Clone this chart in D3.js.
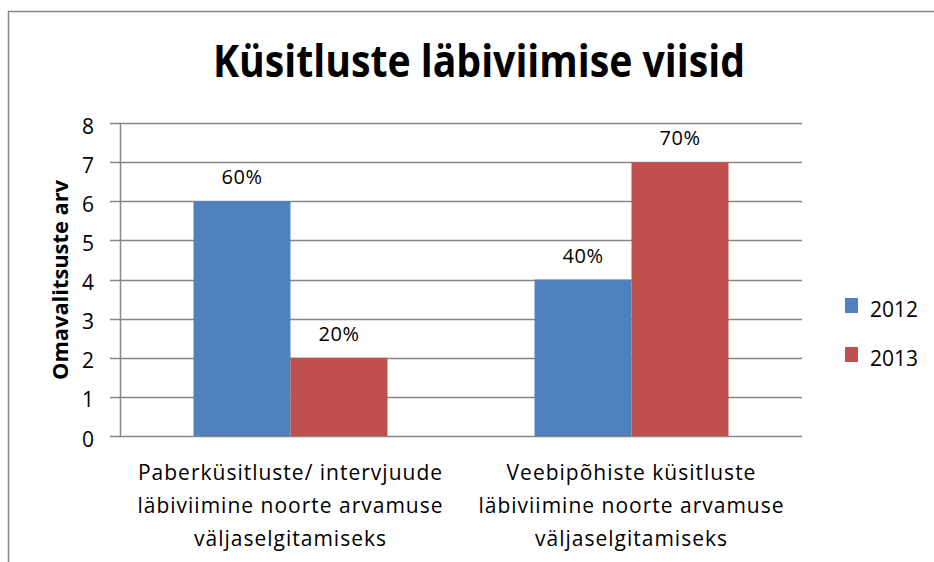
<!DOCTYPE html>
<html>
<head>
<meta charset="utf-8">
<script src="https://cdn.jsdelivr.net/npm/d3@7"></script>
<style>
  body { margin: 0; background: #fff; }
  text { font-family: "Open Sans", "Liberation Sans", sans-serif; fill: #000; }
</style>
</head>
<body>
<svg id="chart" width="934" height="562"></svg>
<script>
// data
const categories = [
  ['Paberküsitluste/ intervjuude', 'läbiviimine noorte arvamuse', 'väljaselgitamiseks'],
  ['Veebipõhiste küsitluste', 'läbiviimine noorte arvamuse', 'väljaselgitamiseks']
]
const seriesNames = ['2012', '2013']
const values2012 = [6, 4]
const values2013 = [2, 7]
const labels2012 = ['60%', '40%']
const labels2013 = ['20%', '70%']
const yTicks = [0, 1, 2, 3, 4, 5, 6, 7, 8]
const colors = ['#4F81BD', '#C0504D']

const svg = d3.select('#chart')

// outer frame
svg.append('rect')
  .attr('x', 8.5).attr('y', 11.5)
  .attr('width', 960).attr('height', 600)
  .attr('fill', 'none').attr('stroke', '#868686').attr('stroke-width', 1.5)

svg.append('text')
  .attr('x', 479).attr('y', 77)
  .attr('text-anchor', 'middle')
  .attr('textLength', 532).attr('lengthAdjust', 'spacingAndGlyphs')
  .style('font-size', '44px').style('font-weight', 'bold')
  .text('Küsitluste läbiviimise viisid')

const plotLeft = 120, plotRight = 802, plotTop = 123, plotBottom = 436

const x = d3.scaleBand().domain(d3.range(categories.length)).range([plotLeft, plotRight])
const y = d3.scaleLinear().domain([0, 8]).range([plotBottom, plotTop])
const inner = d3.scaleBand().domain(seriesNames).range([0, x.bandwidth()]).paddingOuter(0.758).paddingInner(0)

// grid
svg.append('g')
  .selectAll('line')
  .data(yTicks)
  .enter()
  .append('line')
  .attr('x1', plotLeft - 10).attr('x2', plotRight)
  .attr('y1', d => Math.round(y(d)) + 0.5).attr('y2', d => Math.round(y(d)) + 0.5)
  .attr('stroke', '#868686').attr('stroke-width', 1.5)

svg.append('line')
  .attr('x1', plotLeft + 0.5).attr('x2', plotLeft + 0.5)
  .attr('y1', plotTop).attr('y2', plotBottom)
  .attr('stroke', '#868686').attr('stroke-width', 1.5)

svg.append('g')
  .selectAll('text')
  .data(yTicks)
  .enter()
  .append('text')
  .attr('x', 94).attr('y', d => y(d) + 10.5)
  .attr('text-anchor', 'end')
  .style('font-size', '21px')
  .text(d => d)

svg.append('text')
  .attr('transform', 'translate(68, 280) rotate(-90)')
  .attr('text-anchor', 'middle')
  .attr('textLength', 200).attr('lengthAdjust', 'spacingAndGlyphs')
  .style('font-size', '21px').style('font-weight', 'bold')
  .text('Omavalitsuste  arv')

const series = [
  { name: '2012', values: values2012, labels: labels2012, color: colors[0] },
  { name: '2013', values: values2013, labels: labels2013, color: colors[1] }
]

series.forEach(s => {
  const g = svg.append('g')
  const items = s.values.map((v, i) => ({ i, v, label: s.labels[i] }))
  g.selectAll('rect')
    .data(items)
    .enter()
    .append('rect')
    .attr('x', d => x(d.i) + inner(s.name))
    .attr('width', inner.bandwidth())
    .attr('y', d => y(d.v))
    .attr('height', d => y(0) - y(d.v))
    .attr('fill', s.color)
  g.selectAll('text')
    .data(items)
    .enter()
    .append('text')
    .attr('x', d => x(d.i) + inner(s.name) + inner.bandwidth() / 2)
    .attr('y', d => y(d.v) - 17)
    .attr('text-anchor', 'middle')
    .style('font-size', '20px')
    .style('letter-spacing', '0.5px')
    .text(d => d.label)
})

// category labels
categories.forEach((lines, i) => {
  const t = svg.append('text')
    .attr('text-anchor', 'middle')
    .style('font-size', '21px')
    .style('letter-spacing', '1px')
  lines.forEach((ln, k) => {
    t.append('tspan')
      .attr('x', x(i) + x.bandwidth() / 2)
      .attr('y', 480 + k * 33)
      .text(ln)
  })
})

// legend
const legend = svg.append('g')
  .selectAll('g')
  .data(series)
  .enter()
  .append('g')
  .attr('transform', (d, i) => `translate(845, ${298 + i * 49})`)
legend.append('rect').attr('width', 13).attr('height', 15).attr('fill', d => d.color)
legend.append('text').attr('x', 25).attr('y', 19).style('font-size', '21px').text(d => d.name)
</script>
</body>
</html>
